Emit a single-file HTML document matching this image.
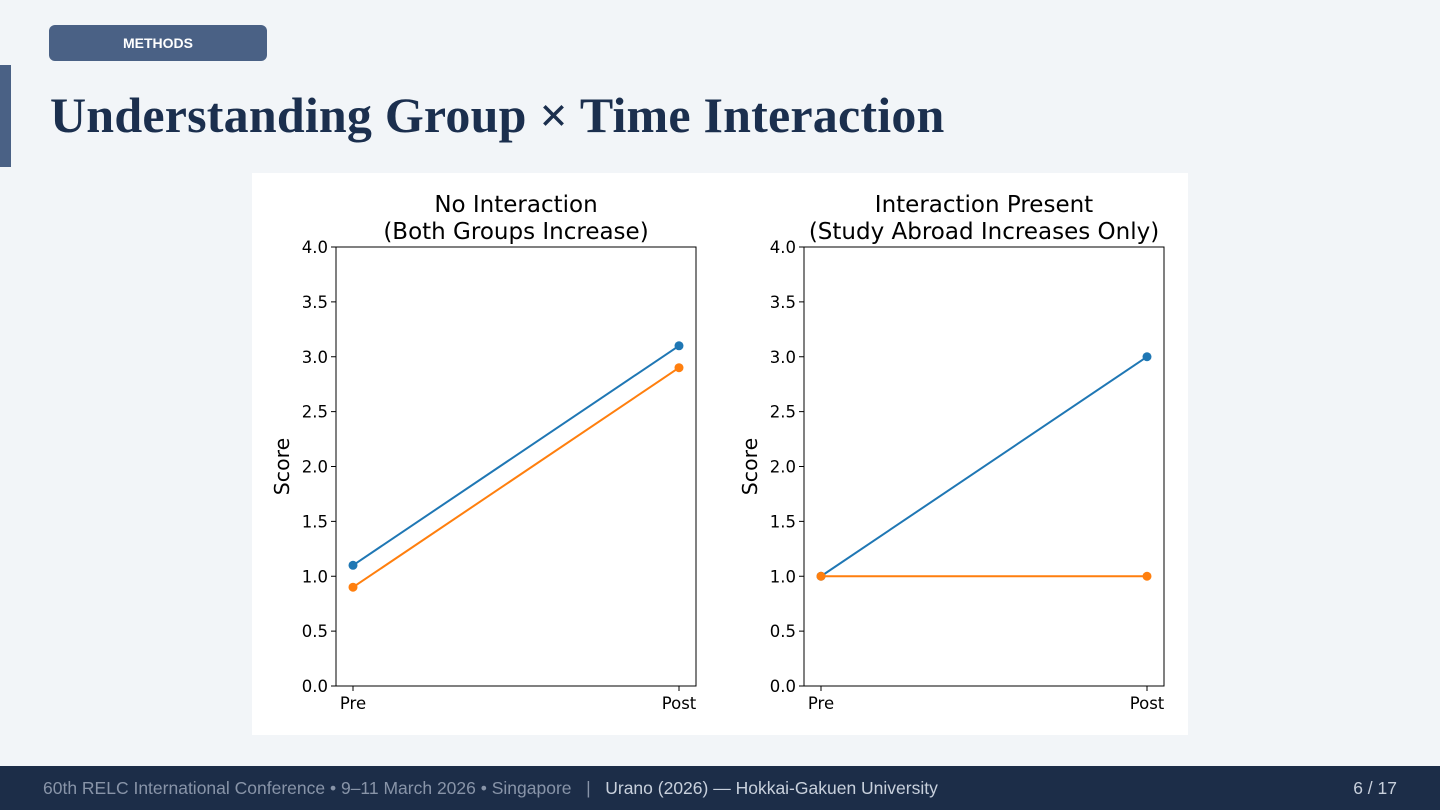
<!DOCTYPE html>
<html><head><meta charset="utf-8"><style>
body{margin:0;width:1440px;height:810px;background:#f2f5f8;position:relative;overflow:hidden;font-family:"Liberation Sans",sans-serif}
#badge{position:absolute;left:49px;top:25px;width:218px;height:36px;background:#4a6185;border-radius:6px;color:#fff;font:bold 14px "Liberation Sans",sans-serif;text-align:center;line-height:36px}
#accent{position:absolute;left:0;top:65px;width:11px;height:102px;background:#4a6185}
#title{position:absolute;left:50px;top:86px;font:bold 50px "Liberation Serif","DejaVu Serif",serif;color:#1b2f4e;white-space:nowrap;letter-spacing:0.2px}
#chart{position:absolute;left:252px;top:173px}
#footer{position:absolute;left:0;top:766px;width:1440px;height:44px;background:#1c2d48;color:#8894a8;font-size:17.5px;line-height:44px}
#footer .l{position:absolute;left:43px;white-space:nowrap}
#footer .r{position:absolute;right:43px;color:#c8d0dc}
</style></head><body>
<div id="badge">METHODS</div>
<div id="accent"></div>
<div id="title">Understanding Group × Time Interaction</div>
<svg id="chart" width="936" height="562"></svg>
<div id="footer"><span class="l">60th RELC International Conference • 9–11 March 2026 • Singapore &nbsp;&nbsp;|&nbsp;&nbsp; <span style="color:#c8d0dc">Urano (2026) — Hokkai-Gakuen University</span></span><span class="r">6 / 17</span></div>
<script>
const categories=["Pre","Post"];
const yTicks=[0,0.5,1,1.5,2,2.5,3,3.5,4];
const tickLabels=["0.0","0.5","1.0","1.5","2.0","2.5","3.0","3.5","4.0"];
const p1Blue=[1.1,3.1];
const p1Orange=[0.9,2.9];
const p2Blue=[1.0,3.0];
const p2Orange=[1.0,1.0];
const titles=[["No Interaction","(Both Groups Increase)"],["Interaction Present","(Study Abroad Increases Only)"]];
(function(){
const svg=document.getElementById('chart');
const NS='http://www.w3.org/2000/svg';
function el(t,a,p){const e=document.createElementNS(NS,t);for(const k in a)e.setAttribute(k,a[k]);(p||svg).appendChild(e);return e;}
el('rect',{x:0,y:0,width:936,height:562,fill:'#fff'});
const yTop=74,yBot=513,ymax=4;
const panels=[{x0:84,series:[p1Blue,p1Orange]},{x0:552,series:[p2Blue,p2Orange]}];
const colors=['#1f77b4','#ff7f0e'];
panels.forEach((p,pi)=>{
 const g=el('g',{});
 
 
 const w=360;
 const X=i=>p.x0+17+i*(w-34)/(categories.length-1);
 const Y=v=>yBot-(v/ymax)*(yBot-yTop);
 el('rect',{x:p.x0,y:yTop,width:w,height:yBot-yTop,fill:'none',stroke:'#000','stroke-width':1},g);
 yTicks.forEach((t,i)=>{const y=Y(t);el('line',{x1:p.x0-5,x2:p.x0,y1:y,y2:y,stroke:'#000'},g);
  const tx=el('text',{x:p.x0-8,y:y+6,'text-anchor':'end','font-size':16.5,'font-family':'DejaVu Sans,sans-serif',fill:'#000'},g);tx.textContent=tickLabels[i];
  
  });
 categories.forEach((c,i)=>{const x=X(i);el('line',{x1:x,x2:x,y1:yBot,y2:yBot+5,stroke:'#000'},g);
  const tx=el('text',{x:x,y:yBot+23,'text-anchor':'middle','font-size':16.5,'font-family':'DejaVu Sans,sans-serif'},g);tx.textContent=c;
  
  });
 const yl=el('text',{transform:`translate(${p.x0-47},${(yTop+yBot)/2}) rotate(-90)`,'text-anchor':'middle','font-size':20.5,'font-family':'DejaVu Sans,sans-serif'},g);yl.textContent='Score';
 
 
 titles[pi].forEach((t,j)=>{const tx=el('text',{x:p.x0+w/2,y:39+j*27,'text-anchor':'middle','font-size':23,'font-family':'DejaVu Sans,sans-serif'},g);tx.textContent=t;
  
  });
 p.series.forEach((s,si)=>{
  const ln=el('polyline',{points:s.map((v,i)=>X(i)+','+Y(v)).join(' '),fill:'none',stroke:colors[si],'stroke-width':2},g);
  
  
  s.forEach((v,i)=>{const c=el('circle',{cx:X(i),cy:Y(v),r:4.5,fill:colors[si]},g);
   
   });
 });
});
})();
</script>
</body></html>
